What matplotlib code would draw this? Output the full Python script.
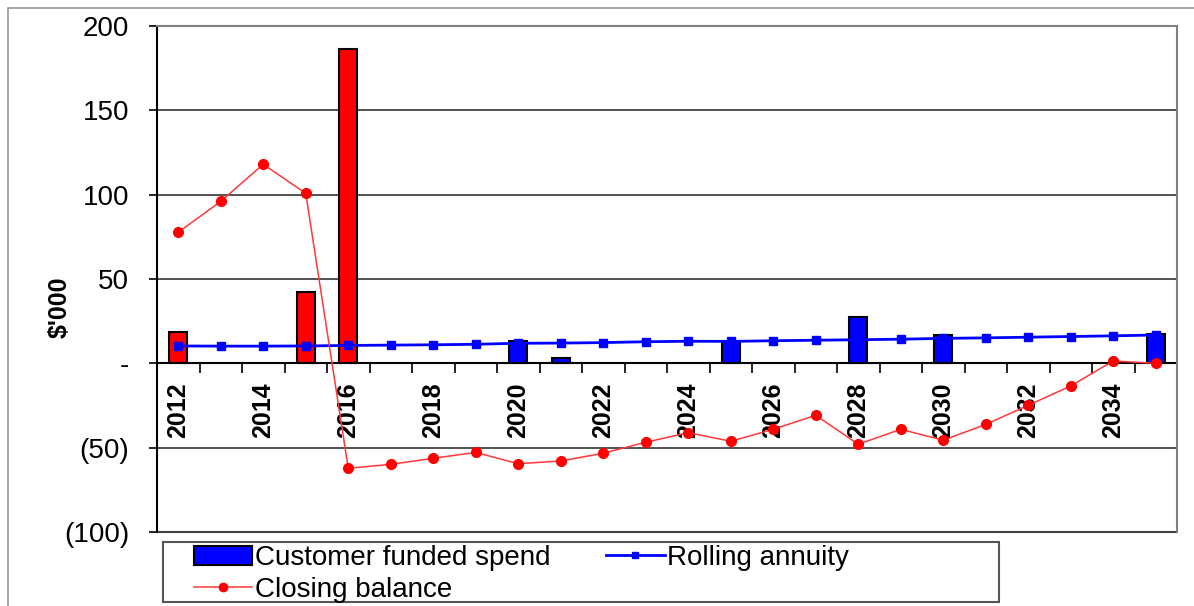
import matplotlib.pyplot as plt
from matplotlib.patches import Rectangle, Patch
from matplotlib.lines import Line2D

plt.rcParams['font.family'] = ['Liberation Sans', 'DejaVu Sans']

years = list(range(2012, 2036))
# customer funded spend ($'000), 0 where no bar
spend = [18.5, 0, 0, 42, 186.5, 0, 0, 0, 13, 3, 0, 0, 0, 13,
         0, 0, 27.7, 0, 16.6, 0, 0, 0, 0, 17.6]
red_years = [2012, 2015, 2016]
annuity = [10.3, 10.2, 10.2, 10.3, 10.6, 10.8, 11.0, 11.3, 11.9, 12.0, 12.3, 12.8,
           13.1, 13.0, 13.4, 13.7, 14.0, 14.3, 14.8, 15.1, 15.5, 15.9, 16.3, 16.8]
closing = [77.7, 96, 118, 100.8, -62.2, -59.9, -56.3, -52.8, -59.5, -57.9, -53.3, -46.8,
           -41.1, -46.2, -39.1, -30.8, -48, -39.1, -45.6, -36.2, -24.9, -13.4, 1.4, 0]
ytick_vals = [-100, -50, 0, 50, 100, 150, 200]
ytick_labels = ['(100)', '(50)', '-', '50', '100', '150', '200']

W, H = 1194, 606
fig = plt.figure(figsize=(W / 100, H / 100), dpi=100)
ax = fig.add_axes([157 / W, (H - 532) / H, (1177 - 157) / W, (532 - 26) / H])

# outer chart border
fig.patches.append(Rectangle((8 / W, -0.1), 1.2, (H - 8) / H + 0.1, transform=fig.transFigure,
                             fill=False, edgecolor='#999999', lw=1.2, zorder=0))

x = list(range(len(years)))
bar_colors = ['#ff0000' if y in red_years else '#0000ff' for y in years]
for xi, v, c in zip(x, spend, bar_colors):
    if v != 0:
        ax.bar(xi, v, width=0.42, color=c, edgecolor='black', lw=1.5, zorder=3)

ax.plot(x, annuity, color='#0000ff', lw=2, marker='s', markersize=6, zorder=4)
ax.plot(x, closing, color='#ff3838', lw=1.1, marker='o', markersize=7,
        markerfacecolor='#ff0000', markeredgecolor='#ff0000', zorder=5)

ax.set_xlim(-0.5, len(years) - 0.5)
ax.set_ylim(-100, 200)

for g in [-50, 50, 100, 150]:
    ax.axhline(g, color='#333333', lw=1.2, zorder=1)

ax.spines['bottom'].set_position(('data', 0))
ax.spines['bottom'].set_color('black')
ax.spines['bottom'].set_linewidth(1.5)
ax.spines['bottom'].set_zorder(2)
ax.spines['left'].set_color('black')
ax.spines['left'].set_linewidth(1.5)
for s in ['top', 'right']:
    ax.spines[s].set_color('#808080')
    ax.spines[s].set_linewidth(1.5)
# bottom frame line at -100
ax.axhline(-100, color='#404040', lw=1.5, zorder=1, clip_on=False)

ax.set_yticks(ytick_vals)
ax.set_yticklabels(ytick_labels, fontsize=20)
ax.tick_params(axis='y', direction='out', length=6, width=1.2, pad=14)

ax.set_xticks(x[::2])
ax.set_xticklabels([str(y) for y in years[::2]], rotation=90, fontsize=18,
                   fontweight='bold', va='top')
ax.set_xticks([i + 0.5 for i in x], minor=True)
ax.tick_params(axis='x', which='major', length=0, pad=14)
ax.tick_params(axis='x', which='minor', direction='out', length=7, width=1.2)

fig.text(60 / W, (H - 307) / H, "$'000", rotation=90, fontsize=18, fontweight='bold',
         ha='center', va='center')

# legend box
fig.patches.append(Rectangle((163 / W, (H - 602) / H), (999 - 163) / W, 60 / H,
                             transform=fig.transFigure, fill=False, edgecolor='#555555',
                             lw=1.5, zorder=2))
handles = [Patch(facecolor='#0000ff', edgecolor='black', lw=1.5, label='Customer funded spend'),
           Line2D([], [], color='#ff3838', lw=1.1, marker='o', markersize=6,
                  markerfacecolor='#ff0000', markeredgecolor='#ff0000', label='Closing balance'),
           Line2D([], [], color='#0000ff', lw=2, marker='s', markersize=5, label='Rolling annuity')]
leg = fig.legend(handles=handles, ncol=2, loc='upper left',
                 bbox_to_anchor=(194 / W, (H - 545) / H),
                 fontsize=20, frameon=False, borderpad=0, labelspacing=0.2,
                 handlelength=2.1, handleheight=0.7, handletextpad=0.1,
                 borderaxespad=0, columnspacing=2.0)

fig.savefig('out.png', dpi=100)
